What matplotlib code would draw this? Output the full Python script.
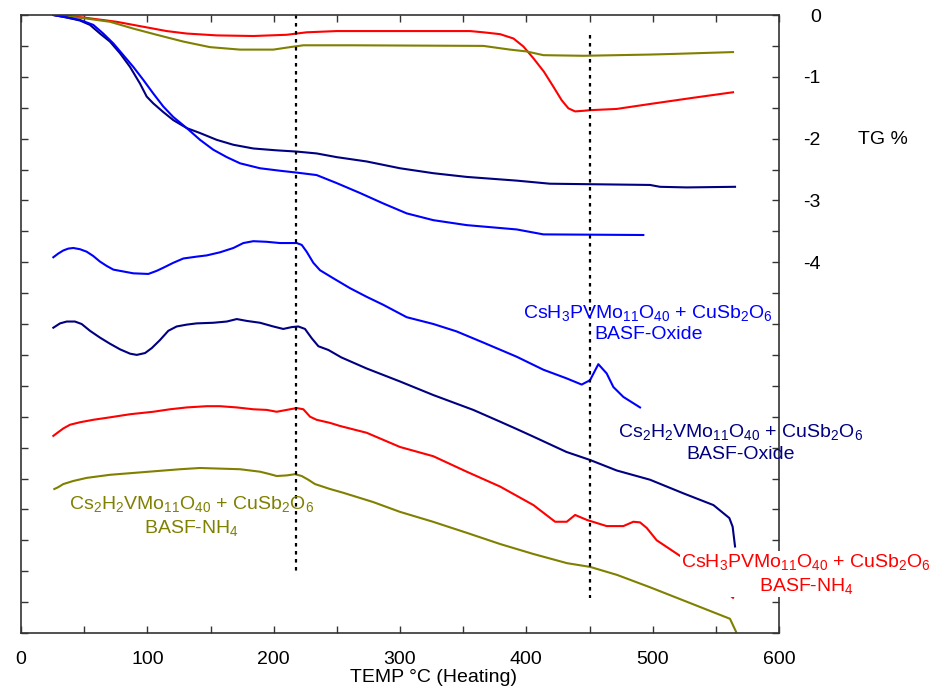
import matplotlib
matplotlib.use("Agg")
import matplotlib.pyplot as plt
from matplotlib.ticker import MultipleLocator, FuncFormatter

plt.rcParams["font.family"] = ["Liberation Sans", "DejaVu Sans"]
plt.rcParams["mathtext.fontset"] = "custom"
plt.rcParams["mathtext.rm"] = "Liberation Sans"
plt.rcParams["mathtext.it"] = "Liberation Sans"

######## TG curves (%) ########
t_tg_red = [25.6, 49.3, 75.7, 96.8, 115.3, 131.2, 154.9, 183.9, 210.3, 226.1, 249.9, 355.4,
            366, 379.2, 389.8, 397.7, 405.6, 414, 421.4, 428, 433.3, 438.6, 445.2, 450.4,
            471.5, 497.9, 531.9, 563.6]
tg_red = [0, -0.04, -0.11, -0.19, -0.26, -0.30, -0.33, -0.34, -0.32, -0.28, -0.26, -0.26,
          -0.28, -0.31, -0.38, -0.51, -0.70, -0.92, -1.16, -1.38, -1.51, -1.56, -1.55, -1.54,
          -1.52, -1.44, -1.34, -1.25]

t_tg_olive = [25.6, 49.3, 70.5, 88.9, 107.4, 128.5, 149.6, 173.4, 199.7, 212.9, 223.5, 234,
              260.4, 366, 387.1, 400.3, 413.5, 445.2, 497.9, 516.1, 563.6]
tg_olive = [0, -0.05, -0.11, -0.22, -0.32, -0.43, -0.52, -0.56, -0.56, -0.52, -0.49, -0.49,
            -0.49, -0.50, -0.56, -0.59, -0.65, -0.66, -0.64, -0.63, -0.60]

t_tg_navy = [25.6, 36.2, 46.7, 54.6, 62.5, 70.4, 78.4, 86.3, 94.2, 99.5, 104.7, 112.6, 120.5,
             131.2, 141.7, 154.9, 168.1, 183.9, 202.4, 218.2, 234, 249.9, 273.6, 300, 326.4,
             352.8, 392.4, 418.7, 497.9, 505.8, 527, 565.2]
tg_navy = [0, -0.04, -0.09, -0.16, -0.30, -0.43, -0.62, -0.84, -1.11, -1.32, -1.43, -1.57, -1.70,
           -1.83, -1.91, -2.02, -2.10, -2.16, -2.19, -2.21, -2.24, -2.30, -2.37, -2.48, -2.56,
           -2.62, -2.68, -2.73, -2.75, -2.78, -2.79, -2.78]

t_tg_blue = [25.6, 46.7, 57.2, 65.1, 73.1, 81, 88.9, 96.8, 104.7, 112.6, 120.5, 131.2, 141.7,
             152.2, 162.9, 173.4, 189.2, 205, 218.2, 234, 249.9, 268.3, 286.8, 305.3, 326.4,
             352.8, 392.4, 413.5, 492.6]
tg_blue = [0, -0.08, -0.16, -0.30, -0.46, -0.65, -0.84, -1.05, -1.27, -1.48, -1.65, -1.83, -2.02,
           -2.18, -2.30, -2.40, -2.48, -2.52, -2.55, -2.59, -2.72, -2.88, -3.05, -3.21, -3.32,
           -3.40, -3.47, -3.55, -3.56]

######## DTA curves (offset, same scale) ########
t_dta_blue = [25.6, 29.5, 33.5, 37.4, 41.4, 46.7, 52, 57.2, 62.5, 67.8, 73.1, 81, 88.9, 100.8,
              107.4, 112.6, 120.5, 128.5, 139, 147, 157.5, 168.1, 176, 183.9, 194.5, 205, 218.2,
              222.2, 226.1, 231.4, 236.7, 247.2, 260.4, 273.6, 286.8, 305.3, 326.4, 344.8,
              365.9, 392.4, 413.5, 431.9, 443.8, 450.4, 457, 463.6, 468.9, 476.8, 490]
dta_blue = [-3.92, -3.86, -3.81, -3.78, -3.77, -3.79, -3.83, -3.90, -3.99, -4.06, -4.12, -4.15,
            -4.18, -4.19, -4.14, -4.09, -4.01, -3.94, -3.91, -3.89, -3.84, -3.77, -3.69, -3.66,
            -3.67, -3.69, -3.69, -3.72, -3.83, -4.01, -4.13, -4.26, -4.42, -4.56, -4.69, -4.89,
            -5.00, -5.12, -5.30, -5.53, -5.74, -5.88, -5.98, -5.91, -5.65, -5.80, -6.02, -6.18,
            -6.35]

t_dta_navy = [25.6, 30.9, 36.2, 42.7, 48, 54.6, 62.5, 70.5, 78.4, 86.3, 91.6, 98.2, 103.5, 110,
              116.6, 123.2, 131.2, 139, 152.2, 162.9, 170.8, 178.7, 189.2, 199.7, 207.6, 214.3,
              219.5, 224.8, 230.1, 235.4, 243.3, 253.5, 273.6, 300, 326.4, 358, 379.2, 392.4,
              405.3, 431.7, 450.4, 471.5, 497.9, 524.3, 548.1, 560.7, 563.3, 565.2]
dta_navy = [-5.06, -4.99, -4.96, -4.96, -5.00, -5.11, -5.22, -5.32, -5.41, -5.48, -5.50, -5.47,
            -5.39, -5.26, -5.11, -5.04, -5.01, -4.99, -4.98, -4.96, -4.92, -4.95, -4.98, -5.04,
            -5.08, -5.05, -5.04, -5.08, -5.23, -5.36, -5.42, -5.54, -5.72, -5.93, -6.15, -6.39,
            -6.58, -6.70, -6.82, -7.07, -7.20, -7.37, -7.52, -7.74, -7.93, -8.14, -8.28, -8.60]

t_dta_red = [25.6, 29.5, 33.5, 38.8, 46.7, 57.2, 70.5, 86.3, 104.7, 117.9, 131.2, 147, 157.5,
             170.8, 184, 194.5, 202.4, 210.3, 218.2, 223.5, 228.8, 234, 244.6, 252.5, 273.6,
             300, 326.4, 352.8, 379.2, 405.6, 422.8, 432, 438.6, 447.9, 463.6, 476.8, 484.7,
             490, 495.3, 503.2, 523, 541.4, 563.6]
dta_red = [-6.81, -6.75, -6.69, -6.63, -6.59, -6.55, -6.51, -6.46, -6.42, -6.38, -6.35, -6.33,
           -6.33, -6.35, -6.38, -6.39, -6.42, -6.39, -6.36, -6.38, -6.50, -6.55, -6.60, -6.65,
           -6.76, -6.99, -7.14, -7.39, -7.63, -7.93, -8.20, -8.20, -8.09, -8.17, -8.27, -8.27,
           -8.20, -8.21, -8.30, -8.50, -8.77, -9.06, -9.43]

t_dta_olive = [26.4, 29.5, 33.5, 41.4, 52, 70.5, 88.9, 107.4, 125.9, 141.7, 157.5, 173.4, 189.2,
               197.1, 202.4, 210.3, 216.9, 222.2, 227.4, 232.7, 244.6, 254.9, 278.6, 300, 326.1,
               353, 379.2, 405.3, 432.2, 450.4, 471.8, 497.9, 524, 561.2, 566]
dta_olive = [-7.67, -7.64, -7.59, -7.54, -7.49, -7.44, -7.41, -7.38, -7.35, -7.33, -7.34, -7.35,
             -7.39, -7.43, -7.46, -7.45, -7.43, -7.46, -7.52, -7.59, -7.67, -7.73, -7.88, -8.04,
             -8.20, -8.38, -8.56, -8.72, -8.87, -8.93, -9.06, -9.26, -9.47, -9.77, -9.98]

######## Marked temperatures ########
temp_marks = [218, 450]
mark_top = [0, -0.32]
mark_bottom = [-9.0, -9.43]

RED = "#ff0000"
OLIVE = "#808000"
NAVY = "#000080"
BLUE = "#0000ff"

fig = plt.figure(figsize=(9.3, 6.89), dpi=100)
ax = fig.add_axes([21 / 930, 1 - 633 / 689, 758 / 930, 618 / 689])

lw = 1.5
ax.plot(t_tg_red, tg_red, color=RED, lw=lw)
ax.plot(t_tg_olive, tg_olive, color=OLIVE, lw=lw)
ax.plot(t_tg_navy, tg_navy, color=NAVY, lw=lw)
ax.plot(t_tg_blue, tg_blue, color=BLUE, lw=lw)

ax.plot(t_dta_blue, dta_blue, color=BLUE, lw=lw)
ax.plot(t_dta_navy, dta_navy, color=NAVY, lw=lw)
ax.plot(t_dta_red, dta_red, color=RED, lw=lw)
ax.plot(t_dta_olive, dta_olive, color=OLIVE, lw=lw)

for t, y0, y1 in zip(temp_marks, mark_top, mark_bottom):
    ax.plot([t, t], [y0, y1], color="black", lw=1.6, linestyle=(0, (1.6, 2.0)))

ax.set_xlim(0, 600)
ax.set_ylim(-10, 0)

# ticks all round, pointing in; labels only bottom and right (0..-4)
ax.xaxis.set_major_locator(MultipleLocator(100))
ax.xaxis.set_minor_locator(MultipleLocator(50))
ax.yaxis.set_major_locator(MultipleLocator(0.5))
ax.yaxis.set_major_formatter(FuncFormatter(
    lambda v, p: f"{int(round(v))}" if abs(v - round(v)) < 1e-6 and v >= -4 else ""))
ax.tick_params(axis="both", which="both", direction="in", top=True, right=True,
               length=5, width=1, color="#333333", labelsize=14)
ax.tick_params(axis="x", pad=13)
ax.tick_params(axis="y", labelleft=False, labelright=True, pad=30)
for lbl in ax.yaxis.get_ticklabels():
    lbl.set_horizontalalignment("right")
for s in ax.spines.values():
    s.set_color("#333333")
    s.set_linewidth(1.2)

# sample labels (baseline given for the second line)
fs = 14
lsp = 1.25
ax.text(134.6, -8.38, "Cs$_2$H$_2$VMo$_{11}$O$_{40}$ + CuSb$_2$O$_6$\nBASF-NH$_4$",
        color=OLIVE, fontsize=fs, ha="center", va="baseline", multialignment="center",
        linespacing=lsp)
ax.text(496.5, -5.24, "CsH$_3$PVMo$_{11}$O$_{40}$ + CuSb$_2$O$_6$\nBASF-Oxide",
        color=BLUE, fontsize=fs, ha="center", va="baseline", multialignment="center",
        linespacing=lsp)
ax.text(569.5, -7.18, "Cs$_2$H$_2$VMo$_{11}$O$_{40}$ + CuSb$_2$O$_6$\nBASF-Oxide",
        color=NAVY, fontsize=fs, ha="center", va="baseline", multialignment="center",
        linespacing=lsp, clip_on=False)
ax.text(621.5, -9.32, "CsH$_3$PVMo$_{11}$O$_{40}$ + CuSb$_2$O$_6$\nBASF-NH$_4$",
        color=RED, fontsize=fs, ha="center", va="baseline", multialignment="center",
        linespacing=lsp, clip_on=False,
        bbox=dict(facecolor="white", edgecolor="none", pad=1))

fig.text(433 / 930, 1 - 677 / 689, "TEMP °C (Heating)", fontsize=fs, ha="center", va="center")
fig.text(883 / 930, 1 - 140 / 689, "TG %", fontsize=fs, ha="center", va="center")

fig.savefig("out.png", dpi=100)
